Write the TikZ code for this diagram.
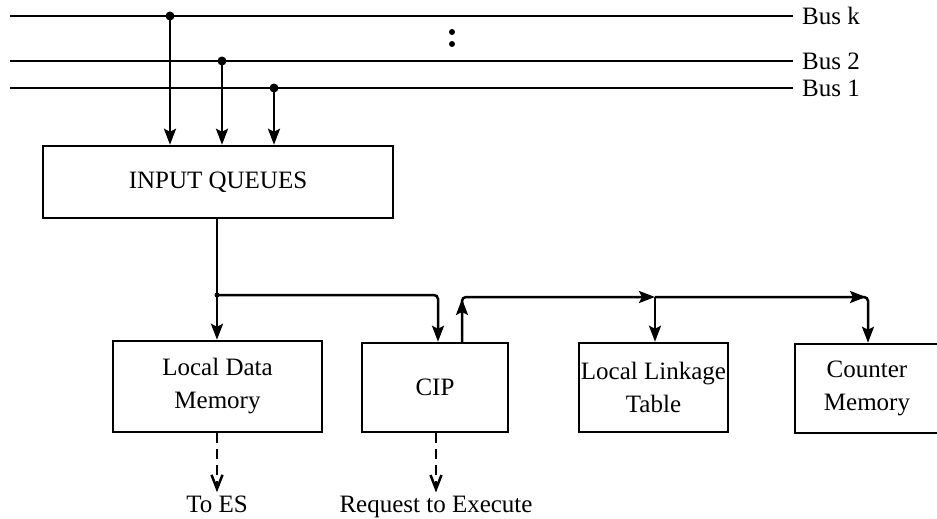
\documentclass[tikz,border=0pt]{standalone}
\usepackage{fontspec}
\setmainfont{Liberation Serif}
\usetikzlibrary{arrows.meta,calc}
\begin{document}
\begin{tikzpicture}[x=1pt,y=-1pt,
  every node/.style={font=\fontsize{25}{33}\selectfont},
  wire/.style={line width=2.5pt},
  arr/.style={wire,-{Stealth[length=16pt,width=12pt,inset=3pt]}},
  dasharr/.style={line width=2.5pt,dash pattern=on 10pt off 6pt,
    -{Straight Barb[length=14pt,width=11pt,line width=2.5pt]}},
  box/.style={draw,line width=2.5pt,inner sep=0pt,align=center},
  lbl/.style={inner sep=0pt},
  tap/.style={circle,fill,inner sep=0pt,minimum size=9pt}]
\useasboundingbox (0,0) rectangle (937,519);

% --- buses ---
\node[lbl,anchor=west] (busk) at (802,16) {Bus k};
\node[lbl,anchor=west] (bus2) at (802,61) {Bus 2};
\node[lbl,anchor=west] (bus1) at (802,88) {Bus 1};
\coordinate (bk0) at (10,16);
\coordinate (b20) at (10,61);
\coordinate (b10) at (10,88);
\draw[wire] (bk0) -- ([xshift=-9pt]busk.west);
\draw[wire] (b20) -- ([xshift=-9pt]bus2.west);
\draw[wire] (b10) -- ([xshift=-9pt]bus1.west);
\fill (452,32) circle (3pt);
\fill (452,44) circle (3pt);

% --- blocks ---
\node[box,minimum width=350pt,minimum height=72pt] (iq) at (218,182) {INPUT QUEUES};
\node[box,minimum width=209pt,minimum height=91pt] (ldm) at (217.5,386.5) {Local Data\\Memory};
\node[box,minimum width=146pt,minimum height=89pt] (cip) at (435,387.5) {CIP};
\node[box,minimum width=149pt,minimum height=89pt] (llt) at (653.5,387.5) {Local Linkage\\Table};
\node[box,minimum width=144pt,minimum height=89pt] (cm) at (867,388.5) {Counter\\Memory};

% --- bus taps into the input queues ---
\node[tap] (tk) at (170,16) {};
\node[tap] (t2) at (222,61) {};
\node[tap] (t1) at (274,88) {};
\draw[arr] (tk.center) -- (tk |- iq.north);
\draw[arr] (t2.center) -- (t2 |- iq.north);
\draw[arr] (t1.center) -- (t1 |- iq.north);

% --- distribution from the input queues ---
\node[tap,minimum size=5pt] (j1) at (217,295) {};
\coordinate (cipin) at (438,295);
\draw[wire] (j1 |- iq.south) -- (j1.center);
\draw[arr] (j1.center) -- (j1 |- ldm.north);
\draw[arr,rounded corners=4pt] (j1.center) -- (cipin) -- (cipin |- cip.north);

% --- CIP output to linkage table and counter memory ---
\coordinate (cipup) at (462,297);
\coordinate (j2) at (655,297);
\coordinate (cmturn) at (868,297);
\draw[arr,rounded corners=4pt] (cipup |- cip.north) -- (cipup) -- (j2);
\draw[arr] (cipup |- cip.north) -- ($(cipup)+(0,2)$);
\draw[arr] (j2) -- (j2 |- llt.north);
\draw[arr,rounded corners=4pt] (j2) -- (cmturn) -- (cmturn |- cm.north);
\draw[arr] (j2) -- ($(cmturn)+(-2,0)$);

% --- outgoing requests ---
\node[lbl,anchor=base] (toes) at (217,512) {To ES};
\node[lbl,anchor=base] (rte) at (436,512) {Request to Execute};
\draw[dasharr,shorten >=3pt] (toes |- ldm.south) -- (toes.north);
\draw[dasharr,shorten >=3pt] (rte |- cip.south) -- (rte.north);
\end{tikzpicture}
\end{document}
